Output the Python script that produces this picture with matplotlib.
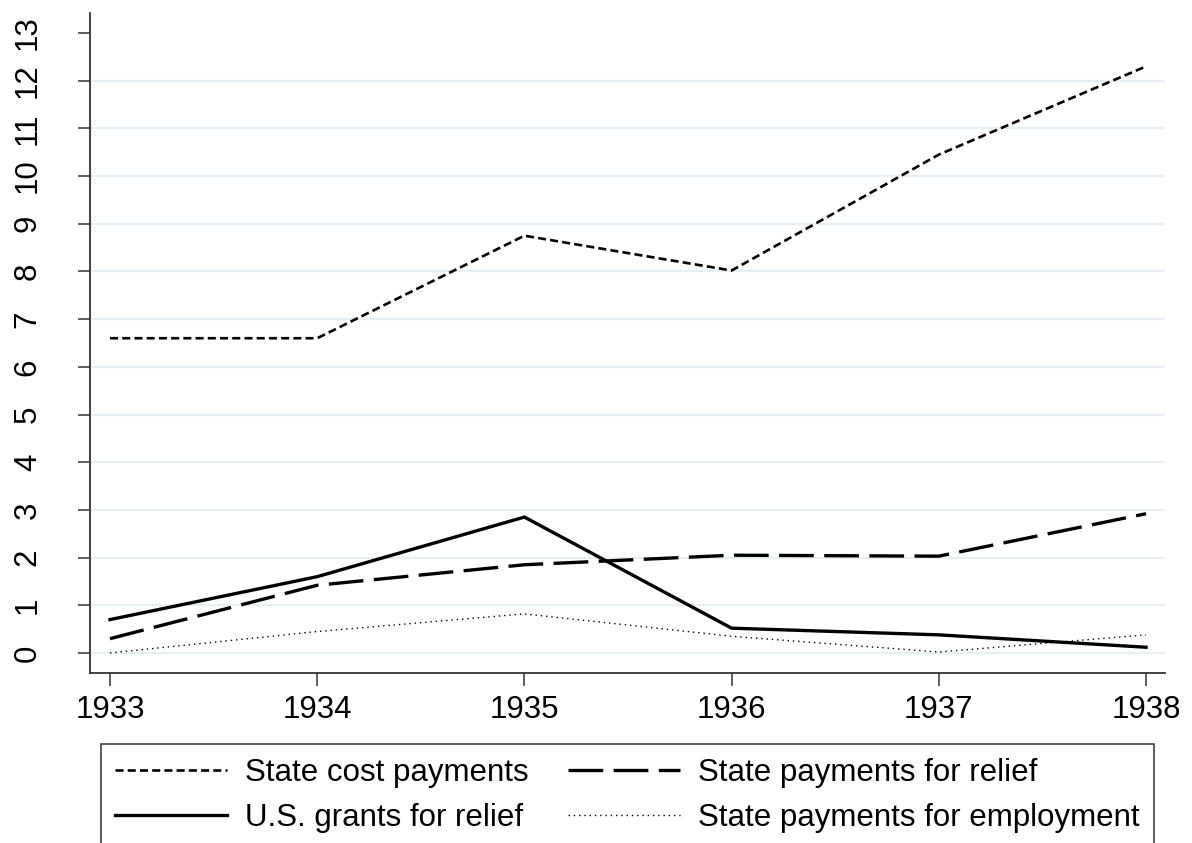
import numpy as np
import matplotlib
matplotlib.use("Agg")
from matplotlib import pyplot as plt

plt.rcParams['font.family'] = ['Liberation Sans', 'DejaVu Sans']
plt.rcParams['lines.scale_dashes'] = False

years = [1933, 1934, 1935, 1936, 1937, 1938]
state_cost = [6.6, 6.6, 8.75, 8.02, 10.45, 12.3]
state_relief = [0.3, 1.42, 1.85, 2.05, 2.03, 2.92]
us_grants = [0.7, 1.6, 2.85, 0.52, 0.38, 0.12]
state_employment = [0.0, 0.45, 0.82, 0.35, 0.02, 0.38]
y_ticks = list(range(0, 14))

W, H = 1192, 843
fig = plt.figure(figsize=(W / 100, H / 100), dpi=100)
ax = fig.add_axes([90 / W, 1 - 673 / H, 1075 / W, 660 / H])

fs = 22.5
l1, = ax.plot(years, state_cost, color='black', lw=1.9, dashes=(5.8, 3.0))
l2, = ax.plot(years, state_relief, color='black', lw=2.4, dashes=(25, 7.5))
l3, = ax.plot(years, us_grants, color='black', lw=2.4, solid_joinstyle='miter')
l4, = ax.plot(years, state_employment, color='black', lw=1.0, dashes=(1.0, 2.8))

ax.set_xlim(1933 - 20 / 207.2, 1938 + 19 / 207.2)
ax.set_ylim(-0.42, 13.42)
ax.set_xticks(years)
ax.set_yticks(y_ticks)
ax.set_yticklabels([str(v) for v in y_ticks], rotation=90, va='center')

ax.grid(axis='y', color='#e6eff1', lw=1.6)
ax.set_axisbelow(True)
ax.yaxis.get_gridlines()[-1].set_visible(False)

for s in ['top', 'right']:
    ax.spines[s].set_visible(False)
for s in ['left', 'bottom']:
    ax.spines[s].set_color('#333333')
    ax.spines[s].set_linewidth(1.3)
ax.tick_params(axis='both', colors='#333333', labelcolor='black', width=1.1,
               length=9, labelsize=fs)
ax.tick_params(axis='x', pad=7)
ax.tick_params(axis='y', pad=25)

leg = fig.legend([l1, l3, l2, l4],
                 ['State cost payments', 'U.S. grants for relief',
                  'State payments for relief', 'State payments for employment'],
                 ncol=2, loc='upper left', mode='expand',
                 bbox_to_anchor=(101 / W, 1 - 744 / H - 0.3, 1053 / W, 0.3),
                 borderaxespad=0, fancybox=False, frameon=True,
                 handlelength=3.58, handletextpad=0.58, borderpad=0.46,
                 labelspacing=0.47, fontsize=fs)
leg.get_frame().set_edgecolor('#222222')
leg.get_frame().set_linewidth(1.3)

fig.savefig('out.png', dpi=100)
